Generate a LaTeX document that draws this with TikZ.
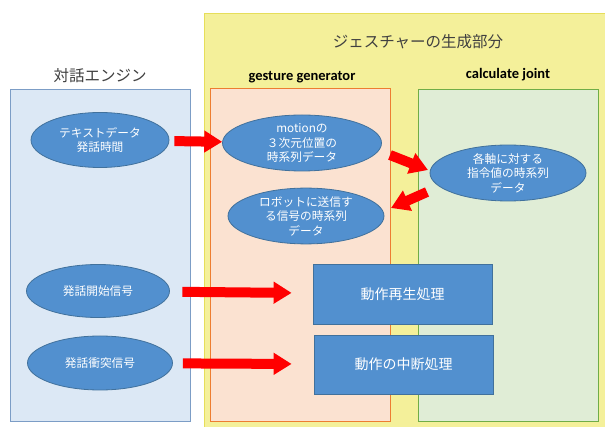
\documentclass[tikz,border=0pt]{standalone}
\usepackage{fontspec}
\setmainfont{Noto Sans CJK JP}
\newfontfamily\calfont{Carlito}
\usetikzlibrary{arrows.meta,shapes.geometric}
\definecolor{ybg}{HTML}{F4F09A}
\definecolor{ybd}{HTML}{E6DE5A}
\definecolor{bbg}{HTML}{DCE8F5}
\definecolor{bbd}{HTML}{7C9DC6}
\definecolor{obg}{HTML}{FBE2D1}
\definecolor{obd}{HTML}{ED7D31}
\definecolor{gbg}{HTML}{E0EDD6}
\definecolor{gbd}{HTML}{70AD47}
\definecolor{nfill}{HTML}{5290CF}
\definecolor{nbd}{HTML}{41719C}
\definecolor{ttext}{HTML}{404040}
\tikzset{
  panel/.style={draw, line width=0.8pt, inner sep=0pt},
  ell/.style={ellipse, draw=nbd, fill=nfill, line width=0.8pt, inner sep=0pt, align=center,
    text=white, font=\fontsize{11.7}{14.5}\selectfont},
  proc/.style={rectangle, draw=nbd, fill=nfill, line width=0.8pt, inner sep=0pt, align=center,
    text=white, font=\fontsize{14}{16}\selectfont, minimum width=179pt},
  redarrow/.style={draw=red, line width=10pt, -{Triangle[length=18pt,width=21pt]}},
  heading/.style={font=\fontsize{15.5}{18}\selectfont, text=ttext, inner sep=0pt},
  subhead/.style={font=\calfont\bfseries\fontsize{14.5}{17}\selectfont, text=black, inner sep=0pt}
}
\begin{document}
\begin{tikzpicture}[x=1pt,y=-1pt]
\useasboundingbox (0,0) rectangle (605,427);
\fill[white] (0,0) rectangle (605,427);
% big yellow region
\fill[ybg] (204,13) rectangle (605,427);
\draw[ybd, line width=0.8pt] (204,427) -- (204,13) -- (605,13);
\node[heading] (title) at (418,42) {ジェスチャーの生成部分};
% panels
\node[panel, draw=bbd, fill=bbg, minimum width=180pt, minimum height=332pt] (dialog) at (100,255) {};
\node[panel, draw=obd, fill=obg, minimum width=180pt, minimum height=333pt] (gen) at (300,254.5) {};
\node[panel, draw=gbd, fill=gbg, minimum width=180pt, minimum height=332pt] (calc) at (508,255) {};
\node[heading] (dialogt) at (100,76) {対話エンジン};
\node[subhead] (gent) at (302,77) {gesture generator};
\node[subhead] (calct) at (508,75) {calculate joint};
% ellipses
\node[ell, minimum width=138pt, minimum height=55pt] (e1) at (100,140) {テキストデータ\\発話時間};
\node[ell, minimum width=159pt, minimum height=56pt] (e2) at (302,143) {motionの\\３次元位置の\\時系列データ};
\node[ell, minimum width=156pt, minimum height=53pt] (e3) at (508,173) {各軸に対する\\指令値の時系列\\データ};
\node[ell, minimum width=156pt, minimum height=53pt] (e4) at (306,216) {ロボットに送信す\\る信号の時系列\\データ};
\node[ell, minimum width=143pt, minimum height=53pt] (e5) at (98,291) {発話開始信号};
\node[ell, minimum width=145pt, minimum height=54pt] (e6) at (100,363) {発話衝突信号};
% process boxes
\node[proc, minimum height=60pt] (r1) at (402.5,294) {動作再生処理};
\node[proc, minimum height=59pt] (r2) at (403.5,364.5) {動作の中断処理};
% arrows
\coordinate (a2s) at (390,155);
\coordinate (a2e) at (428,170);
\coordinate (a3s) at (427,192);
\coordinate (a3e) at (391,208);
\draw[redarrow, shorten <=5pt] (e1) -- (e2);
\draw[redarrow] (a2s) -- (a2e);
\draw[redarrow] (a3s) -- (a3e);
\draw[redarrow, shorten <=12.5pt, shorten >=21pt] (e5) -- (r1);
\draw[redarrow, shorten <=10pt, shorten >=22pt] (e6) -- (r2);
\end{tikzpicture}
\end{document}
